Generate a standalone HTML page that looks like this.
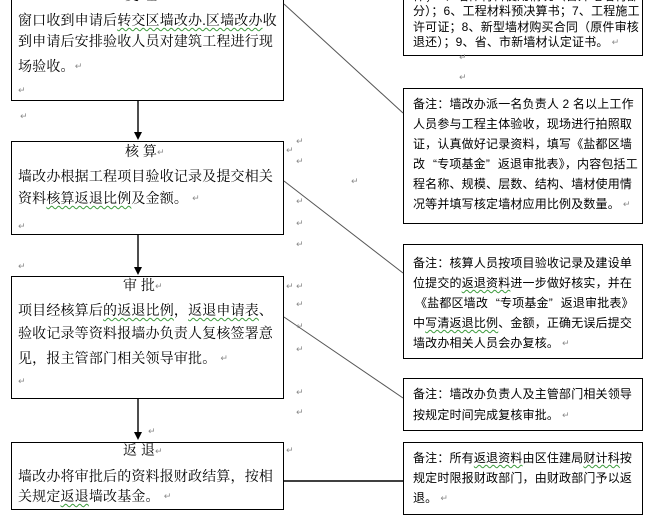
<!DOCTYPE html>
<html>
<head>
<meta charset="utf-8">
<style>
  html,body{margin:0;padding:0;}
  body{width:655px;height:530px;position:relative;overflow:hidden;background:#fff;}
  .box{position:absolute;border:1.4px solid #000;box-sizing:border-box;background:#fff;}
  .L{position:absolute;white-space:nowrap;font-family:"Liberation Serif","Noto Serif CJK SC",serif;font-size:14px;line-height:16px;letter-spacing:0.17px;color:#000;}
  .R{position:absolute;white-space:nowrap;font-family:"Liberation Sans","Noto Sans CJK SC",sans-serif;font-size:12px;line-height:14px;letter-spacing:0.17px;color:#000;}
  .m{position:absolute;font-family:"DejaVu Sans",sans-serif;font-size:9px;line-height:10px;color:#8a8a8a;}
  .w{text-decoration:underline wavy #3c9a3c;text-decoration-thickness:1px;text-underline-offset:2px;}
  .ql{display:inline-block;width:12px;text-align:right;}
  .qr{display:inline-block;width:12px;text-align:left;}
  svg{position:absolute;left:0;top:0;}
</style>
</head>
<body>
<!-- left boxes -->
<div class="box" style="left:11px;top:-20px;width:273px;height:121px;"></div>
<div class="box" style="left:11px;top:141px;width:273px;height:94px;"></div>
<div class="box" style="left:11px;top:276px;width:273px;height:123px;"></div>
<div class="box" style="left:11px;top:442px;width:273px;height:68px;"></div>
<!-- right boxes -->
<div class="box" style="left:403px;top:-20px;width:240px;height:76px;"></div>
<div class="box" style="left:403px;top:88px;width:240px;height:136px;"></div>
<div class="box" style="left:403px;top:244px;width:240px;height:115px;"></div>
<div class="box" style="left:403px;top:378px;width:240px;height:53px;"></div>
<div class="box" style="left:403px;top:442px;width:240px;height:73px;"></div>

<svg width="655" height="530" viewBox="0 0 655 530">
  <g stroke="#000" stroke-width="1.4" fill="none">
    <line x1="138" y1="101" x2="138" y2="134"/>
    <line x1="138" y1="235" x2="138" y2="269"/>
    <line x1="138" y1="399" x2="138" y2="434"/>
    <line x1="284" y1="481" x2="403" y2="481"/>
  </g>
  <g fill="#000">
    <polygon points="134,132 142,132 138,140"/>
    <polygon points="134,267 142,267 138,275"/>
    <polygon points="134,432 142,432 138,440"/>
  </g>
  <g stroke="#555" stroke-width="1" fill="none">
    <line x1="284" y1="4" x2="403" y2="113"/>
    <line x1="284" y1="181" x2="403" y2="273"/>
    <line x1="284" y1="317" x2="403" y2="398"/>
  </g>
</svg>

<!-- box 1 -->
<div class="L" style="left:125px;top:-11px;">受 理</div>
<div class="L" style="left:18px;top:14px;">窗口收到申请后<span class="w">转交区墙改办.区墙改办</span>收</div>
<div class="L" style="left:18px;top:35px;">到申请后安排验收人员对建筑工程进行现</div>
<div class="L" style="left:18px;top:60px;">场验收。<span class="m" style="position:relative;top:-2px;">↵</span></div>
<div class="m" style="left:18px;top:86px;">↵</div>
<div class="m" style="left:20px;top:112px;">↵</div>

<!-- box 2 -->
<div class="L" style="left:125px;top:145px;">核 算<span class="m" style="position:relative;top:-1px;">↵</span></div>
<div class="L" style="left:18px;top:170px;">墙改办根据工程项目验收记录及提交相关</div>
<div class="L" style="left:18px;top:192px;">资料<span class="w">核算返退比例</span>及金额。<span class="m" style="position:relative;top:-2px;margin-left:4px;">↵</span></div>
<div class="m" style="left:18px;top:222px;">↵</div>

<!-- box 3 -->
<div class="L" style="left:123px;top:279px;">审 批<span class="m" style="position:relative;top:-1px;">↵</span></div>
<div class="L" style="left:18px;top:304px;">项目经核算后<span class="w">的返退比例</span>，<span class="w">返退申请表</span>、</div>
<div class="L" style="left:18px;top:327px;">验收记录等资料报墙办负责人复核签署意</div>
<div class="L" style="left:18px;top:352px;">见，报主管部门相关领导审批。<span class="m" style="position:relative;top:-2px;margin-left:4px;">↵</span></div>
<div class="m" style="left:18px;top:377px;">↵</div>
<div class="m" style="left:18px;top:262px;">↵</div>

<!-- box 4 -->
<div class="L" style="left:123px;top:444px;">返 退<span class="m" style="position:relative;top:-1px;">↵</span></div>
<div class="L" style="left:18px;top:470px;">墙改办将审批后的资料报财政结算，按相</div>
<div class="L" style="left:18px;top:490px;">关规定<span class="w">返退</span>墙改基金。<span class="m" style="position:relative;top:-2px;margin-left:4px;">↵</span></div>

<!-- gray return marks between columns -->
<div class="m" style="left:296px;top:137px;">↵</div>
<div class="m" style="left:286px;top:146px;">↵</div>
<div class="m" style="left:296px;top:157px;">↵</div>
<div class="m" style="left:296px;top:197px;">↵</div>
<div class="m" style="left:296px;top:219px;">↵</div>
<div class="m" style="left:296px;top:240px;">↵</div>
<div class="m" style="left:351px;top:177px;">↵</div>
<div class="m" style="left:286px;top:282px;">↵</div>
<div class="m" style="left:296px;top:282px;">↵</div>
<div class="m" style="left:296px;top:300px;">↵</div>
<div class="m" style="left:296px;top:322px;">↵</div>
<div class="m" style="left:296px;top:345px;">↵</div>
<div class="m" style="left:296px;top:388px;">↵</div>
<div class="m" style="left:296px;top:408px;">↵</div>
<div class="m" style="left:148px;top:427px;">↵</div>
<div class="m" style="left:286px;top:446px;">↵</div>
<div class="m" style="left:459px;top:53px;">↵</div>
<div class="m" style="left:459px;top:73px;">↵</div>

<!-- box A -->
<div class="R" style="left:413px;top:-11px;">件；5、墙体材料使用情况（含外地墙材部</div>
<div class="R" style="left:413px;top:4px;">分）；6、工程材料预决算书；7、工程施工</div>
<div class="R" style="left:413px;top:20px;">许可证；8、新型墙材购买合同（原件审核</div>
<div class="R" style="left:413px;top:35px;">退还）；9、省、市新墙材认定证书。<span class="m" style="position:relative;top:-1px;margin-left:3px;">↵</span></div>

<!-- box B -->
<div class="R" style="left:413px;top:97px;">备注：墙改办派一名负责人 2 名以上工作</div>
<div class="R" style="left:413px;top:117px;">人员参与工程主体验收，现场进行拍照取</div>
<div class="R" style="left:413px;top:137px;">证，认真做好记录资料，填写《盐都区墙</div>
<div class="R" style="left:413px;top:157px;">改<span class="ql">“</span>专项基金<span class="qr">”</span>返退审批表》，内容包括工</div>
<div class="R" style="left:413px;top:177px;">程名称、规模、层数、结构、墙材使用情</div>
<div class="R" style="left:413px;top:197px;">况等并填写核定墙材应用比例及数量。<span class="m" style="position:relative;top:-1px;margin-left:3px;">↵</span></div>

<!-- box C -->
<div class="R" style="left:413px;top:256px;">备注：核算人员按项目验收记录及建设单</div>
<div class="R" style="left:413px;top:276px;">位提交的<span class="w">返退资料</span>进一步做好核实，并在</div>
<div class="R" style="left:415px;top:296px;">《盐都区墙改<span class="ql">“</span>专项基金<span class="qr">”</span>返退审批表》</div>
<div class="R" style="left:413px;top:316px;">中<span class="w">写清返退比例</span>、金额，正确无误后提交</div>
<div class="R" style="left:413px;top:336px;">墙改办相关人员会办复核。<span class="m" style="position:relative;top:-1px;margin-left:3px;">↵</span></div>

<!-- box D -->
<div class="R" style="left:413px;top:387px;">备注：墙改办负责人及主管部门相关领导</div>
<div class="R" style="left:413px;top:408px;">按规定时间完成复核审批。<span class="m" style="position:relative;top:-1px;margin-left:3px;">↵</span></div>

<!-- box E -->
<div class="R" style="left:413px;top:451px;">备注：所有<span class="w">返退资料</span>由区住建局<span class="w">财计科</span>按</div>
<div class="R" style="left:413px;top:471px;">规定时限报财政部门，由财政部门予以返</div>
<div class="R" style="left:413px;top:491px;">退。<span class="m" style="position:relative;top:-1px;margin-left:3px;">↵</span></div>
</body>
</html>
